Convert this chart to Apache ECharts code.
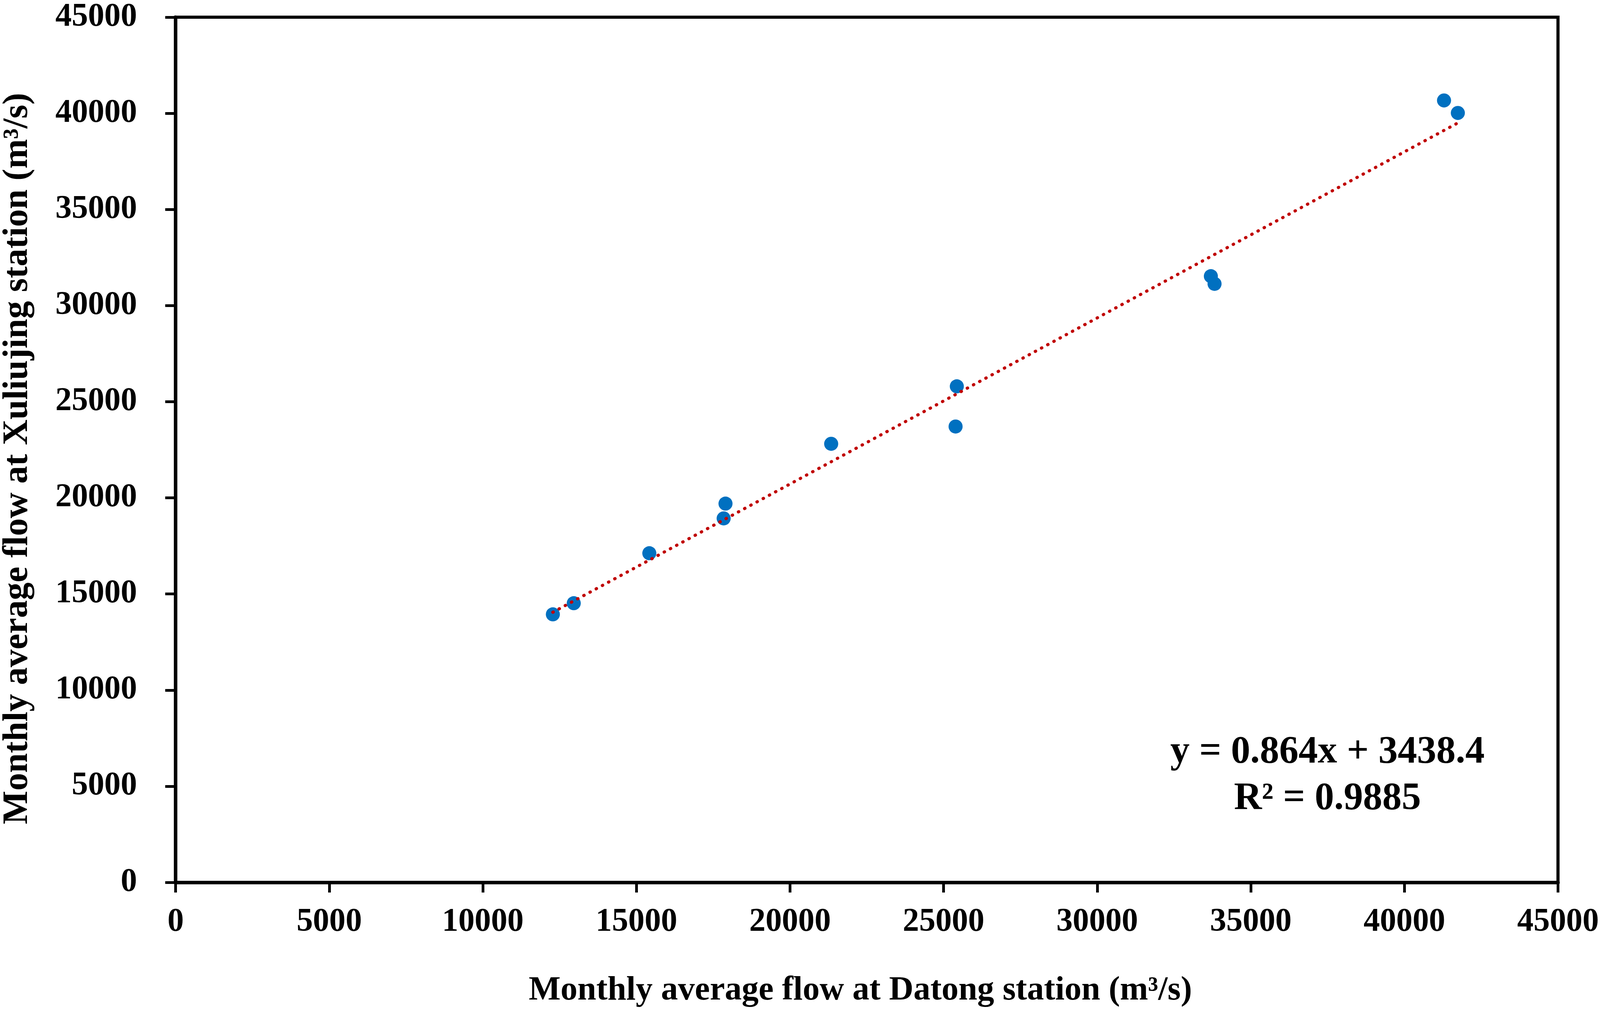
<!DOCTYPE html>
<html>
<head>
<meta charset="utf-8">
<script src="https://cdn.jsdelivr.net/npm/echarts@6/dist/echarts.min.js"></script>
<style>
  html, body { margin: 0; padding: 0; background: #fff; overflow: hidden; }
  #chart_view { width: 100vw; height: 100vh; }
</style>
</head>
<body>
<div id="chart_view"></div>
<script type="text/javascript">
  // 大通站 / 徐六泾站 月均流量 (m3/s)
  var datong_flow = [12280, 12960, 15420, 17840, 17900, 21340, 25390, 25430, 33700, 33820, 41290, 41740];
  var xuliujing_flow = [13940, 14520, 17120, 18930, 19700, 22810, 23710, 25800, 31530, 31130, 40670, 40020];
  // trend line end points
  var trend_x = [12280, 41740];
  var trend_y = [14050, 39500];
  var trend_text = ['y = 0.864x + 3438.4', 'R\u00b2 = 0.9885'];
  var x_name = 'Monthly average flow at Datong station (m\u00b3/s)';
  var y_name = 'Monthly average flow at Xuliujing station (m\u00b3/s)';

  var points = [];
  for (var i = 0; i < datong_flow.length; i++) {
    points.push([datong_flow[i], xuliujing_flow[i]]);
  }
  var trend = [];
  for (var j = 0; j < trend_x.length; j++) {
    trend.push([trend_x[j], trend_y[j]]);
  }

  var dom = document.getElementById('chart_view');
  var myChart = echarts.init(dom);
  // layout was measured on a 4309 x 2596 picture; scale to the real window
  var sx = myChart.getWidth() / 4309;
  var sy = myChart.getHeight() / 2596;
  var fam = '"Liberation Serif"';
  var plain = function (v) { return String(v); };

  var option = {
    animation: false,
    backgroundColor: '#fff',
    grid: {
      left: 473 * sx,
      right: 110 * sx,
      top: 44 * sy,
      bottom: 337 * sy,
      show: true,
      borderColor: '#000',
      borderWidth: 8
    },
    xAxis: {
      type: 'value',
      min: 0,
      max: 45000,
      interval: 5000,
      axisLine: { lineStyle: { color: '#000', width: 9 } },
      axisTick: { inside: false, length: 26 * sy, lineStyle: { color: '#000', width: 7 } },
      axisLabel: { margin: 60 * sy, formatter: plain, fontFamily: 'Liberation Serif', fontWeight: 'bold', fontSize: 88 * sx, color: '#000' },
      splitLine: { show: false }
    },
    yAxis: {
      type: 'value',
      min: 0,
      max: 45000,
      interval: 5000,
      axisLine: { lineStyle: { color: '#000', width: 9 } },
      axisTick: { inside: false, length: 28 * sx, lineStyle: { color: '#000', width: 7 } },
      axisLabel: { margin: 104 * sx, formatter: plain, fontFamily: 'Liberation Serif', fontWeight: 'bold', fontSize: 88 * sx, color: '#000' },
      splitLine: { show: false }
    },
    series: [
      {
        type: 'scatter',
        data: points,
        symbol: 'circle',
        symbolSize: 36,
        itemStyle: { color: '#0070C0', opacity: 1 }
      },
      {
        type: 'line',
        data: trend,
        symbol: 'none',
        lineStyle: { color: '#C00000', width: 8, type: [1, 17], cap: 'round' },
        z: 3
      }
    ],
    graphic: [
      {
        type: 'text',
        x: 2317 * sx,
        y: 2537 * sy,
        style: {
          text: x_name,
          font: 'bold ' + (91 * sx) + 'px ' + fam,
          fill: '#000',
          align: 'center',
          verticalAlign: 'middle'
        }
      },
      {
        type: 'text',
        x: 48 * sx,
        y: 1174 * sy,
        rotation: Math.PI / 2,
        style: {
          text: y_name,
          font: 'bold ' + (91 * sy) + 'px ' + fam,
          fill: '#000',
          align: 'center',
          verticalAlign: 'middle'
        }
      },
      {
        type: 'text',
        x: 3575 * sx,
        y: 1926 * sy,
        style: {
          text: trend_text[0],
          font: 'bold ' + (104 * sx) + 'px ' + fam,
          fill: '#000',
          align: 'center',
          verticalAlign: 'middle'
        }
      },
      {
        type: 'text',
        x: 3575 * sx,
        y: 2045 * sy,
        style: {
          text: trend_text[1],
          font: 'bold ' + (104 * sx) + 'px ' + fam,
          fill: '#000',
          align: 'center',
          verticalAlign: 'middle'
        }
      }
    ]
  };
  myChart.setOption(option);
</script>
</body>
</html>
